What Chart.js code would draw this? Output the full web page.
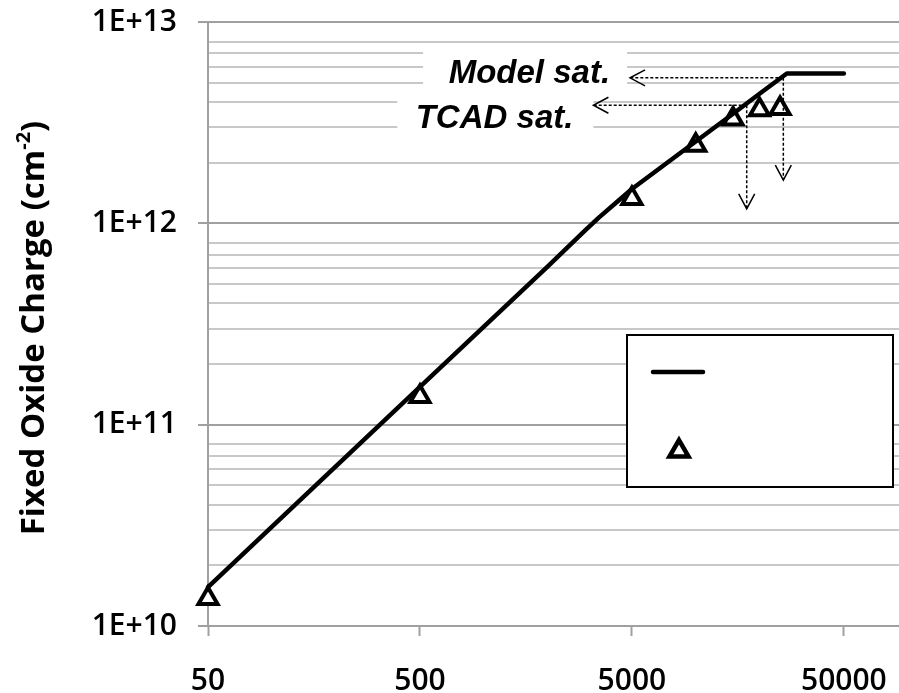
<!DOCTYPE html>
<html>
<head>
<meta charset="utf-8">
<script src="https://cdn.jsdelivr.net/npm/chart.js@4.4.1/dist/chart.umd.min.js"></script>
<style>
html,body{margin:0;padding:0;background:#fff;}
#wrap{width:899px;height:693px;}
</style>
</head>
<body>
<div id="wrap"><canvas id="chart" width="899" height="693"></canvas></div>
<script>
// model curve (dose vs fixed oxide charge)
const doseModel = [50, 500, 2000, 3000, 3500, 4300, 5000, 10000, 15000, 20000, 26900, 50000];
const qModel = [1.56e10, 1.54e11, 6.1e11, 9.2e11, 1.07e12, 1.29e12, 1.48e12, 2.55e12, 3.5e12, 4.4e12, 5.55e12, 5.55e12];

// TCAD points
const doseTcad = [50, 500, 5000, 10000, 15000, 20000, 25000];
const qTcad = [1.37e10, 1.38e11, 1.33e12, 2.44e12, 3.30e12, 3.67e12, 3.72e12];

// axis ticks
const xTickValues = [50, 500, 5000, 50000];
const xTickLabels = ['50', '500', '5000', '50000'];
const yTickValues = [1e10, 1e11, 1e12, 1e13];
const yTickLabels = ['1E+10', '1E+11', '1E+12', '1E+13'];
const yMinorSteps = [2, 3, 4, 5, 6, 7, 8];

// saturation arrows (start point -> arrow tips)
const modelSat = {text:'Model sat.', x:25900, y:5.28e12, tipX:4900, tipY:1.64e12};
const tcadSat = {text:'TCAD sat.', x:17400, y:3.86e12, tipX:3290, tipY:1.18e12};

const yTitle = 'Fixed Oxide Charge (cm', yTitleSup = '-2', yTitleEnd = ')';

Chart.defaults.font.family = "'Open Sans', sans-serif";

function isMajor(v){ return yTickValues.indexOf(v) >= 0; }

function arrow(ctx, x0, y0, x1, y1){
  ctx.save();
  ctx.strokeStyle = '#000';
  ctx.lineWidth = 1.5;
  ctx.setLineDash([3,2]);
  ctx.beginPath(); ctx.moveTo(x0,y0); ctx.lineTo(x1,y1); ctx.stroke();
  ctx.setLineDash([]);
  const len = Math.hypot(x1-x0, y1-y0), ux = (x1-x0)/len, uy = (y1-y0)/len;
  ctx.beginPath();
  ctx.moveTo(x1 - ux*15 - uy*8, y1 - uy*15 + ux*8);
  ctx.lineTo(x1, y1);
  ctx.lineTo(x1 - ux*15 + uy*8, y1 - uy*15 - ux*8);
  ctx.stroke();
  ctx.restore();
}

const decor = {
  id:'decor',
  beforeDatasetsDraw(chart){
    const ctx = chart.ctx, xs = chart.scales.x, ys = chart.scales.y;
    ctx.save();
    // white text boxes over the grid
    const mTip = xs.getPixelForValue(modelSat.tipX), mY = ys.getPixelForValue(modelSat.y);
    const tTip = xs.getPixelForValue(tcadSat.tipX), tY = ys.getPixelForValue(tcadSat.y);
    ctx.fillStyle = '#fff';
    ctx.fillRect(mTip - 207, mY - 33, 204, 47);
    ctx.fillRect(tTip - 196, tY - 13, 196, 44);
    ctx.fillStyle = '#000';
    ctx.font = "italic bold 33px 'Liberation Sans', Arial, sans-serif";
    ctx.textAlign = 'right';
    ctx.textBaseline = 'alphabetic';
    ctx.fillText(modelSat.text, mTip - 20, mY + 5);
    ctx.fillText(tcadSat.text, tTip - 20, tY + 23);
    ctx.restore();
  },
  afterDatasetsDraw(chart){
    const ctx = chart.ctx, xs = chart.scales.x, ys = chart.scales.y;
    [modelSat, tcadSat].forEach(a=>{
      const px = xs.getPixelForValue(a.x), py = ys.getPixelForValue(a.y);
      arrow(ctx, px, py, xs.getPixelForValue(a.tipX), py);
      arrow(ctx, px, py, px, ys.getPixelForValue(a.tipY));
    });
  },
  afterDraw(chart){
    const ctx = chart.ctx, area = chart.chartArea;
    // legend box (no text)
    const lx = area.right - 272, ly = area.top + 313;
    ctx.save();
    ctx.fillStyle = '#fff';
    ctx.fillRect(lx, ly, 266, 152);
    ctx.strokeStyle = '#000';
    ctx.lineWidth = 2;
    ctx.strokeRect(lx, ly, 266, 152);
    ctx.lineWidth = 4.5;
    ctx.lineCap = 'round';
    ctx.beginPath(); ctx.moveTo(lx + 26, ly + 37); ctx.lineTo(lx + 76, ly + 37); ctx.stroke();
    ctx.fillStyle = '#fff';
    ctx.lineCap = 'butt';
    Chart.helpers.drawPoint(ctx, {pointStyle:'triangle', radius:11, borderWidth:4, rotation:0}, lx + 52, ly + 116);
    ctx.restore();

    // y axis title with superscript
    ctx.save();
    ctx.translate(35, 328);
    ctx.rotate(-Math.PI/2);
    ctx.fillStyle = '#000';
    ctx.textBaseline = 'middle';
    ctx.textAlign = 'left';
    const big = "bold 33px 'Open Sans', sans-serif", small = "bold 20px 'Open Sans', sans-serif";
    ctx.font = big; const w1 = ctx.measureText(yTitle).width, w3 = ctx.measureText(yTitleEnd).width;
    ctx.font = small; const w2 = ctx.measureText(yTitleSup).width;
    let x = -(w1 + w2 + w3)/2;
    ctx.font = big; ctx.fillText(yTitle, x, 0); x += w1;
    ctx.font = small; ctx.fillText(yTitleSup, x, -11); x += w2;
    ctx.font = big; ctx.fillText(yTitleEnd, x, 0);
    ctx.restore();
  }
};

new Chart(document.getElementById('chart'), {
  type:'scatter',
  data:{
    datasets:[
      {
        label:'Model',
        data:doseModel.map((d,i)=>({x:d, y:qModel[i]})),
        showLine:true,
        borderColor:'#000',
        borderWidth:4.5,
        borderCapStyle:'round',
        borderJoinStyle:'round',
        pointRadius:0,
        tension:0,
        clip:false
      },
      {
        label:'TCAD',
        data:doseTcad.map((d,i)=>({x:d, y:qTcad[i]})),
        showLine:false,
        pointStyle:'triangle',
        pointRadius:11,
        pointBorderWidth:4,
        pointBorderColor:'#000',
        pointBackgroundColor:'#fff',
        borderColor:'#000',
        backgroundColor:'#fff',
        clip:false
      }
    ]
  },
  options:{
    responsive:false,
    animation:false,
    devicePixelRatio:1,
    layout:{autoPadding:false, padding:{top:22, right:0, left:0, bottom:0}},
    plugins:{legend:{display:false}, tooltip:{enabled:false}},
    scales:{
      x:{
        type:'logarithmic',
        min:50,
        max:91000,
        afterFit(s){ s.height = 67; s.paddingLeft = 0; s.paddingRight = 0; },
        afterBuildTicks(s){ s.ticks = xTickValues.map(v=>({value:v})); },
        grid:{drawOnChartArea:false, drawTicks:true, tickLength:10, tickColor:'#a0a0a0', tickWidth:2},
        border:{color:'#a0a0a0', width:2},
        ticks:{
          autoSkip:false, maxRotation:0, padding:27, color:'#000',
          font:{size:30, weight:'600'},
          callback:(v,i)=>xTickLabels[i]
        }
      },
      y:{
        type:'logarithmic',
        min:1e10,
        max:1e13,
        afterFit(s){ s.width = 208; s.paddingTop = 0; s.paddingBottom = 0; },
        afterBuildTicks(s){
          const t = [];
          yTickValues.forEach((v,i)=>{
            t.push({value:v});
            if(i < yTickValues.length-1) yMinorSteps.forEach(k=>t.push({value:v*k}));
          });
          s.ticks = t.sort((a,b)=>a.value-b.value);
        },
        grid:{
          color:c=>isMajor(c.tick && c.tick.value) ? '#a0a0a0' : '#c8c8c8',
          lineWidth:2,
          tickLength:10,
          tickWidth:2,
          tickColor:c=>isMajor(c.tick && c.tick.value) ? '#a0a0a0' : 'rgba(0,0,0,0)'
        },
        border:{color:'#a0a0a0', width:2},
        ticks:{
          autoSkip:false, padding:21, color:'#000',
          font:{size:30, weight:'600'},
          callback:v=>{ const i = yTickValues.indexOf(v); return i >= 0 ? yTickLabels[i] : ''; }
        }
      }
    }
  },
  plugins:[decor]
});
</script>
</body>
</html>
